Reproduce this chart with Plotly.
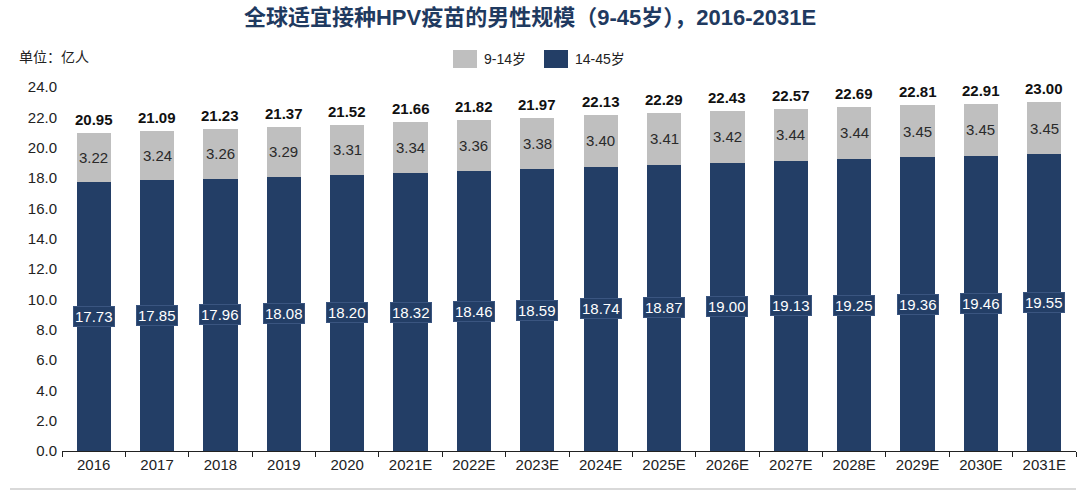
import plotly.graph_objects as go

years = ["2016", "2017", "2018", "2019", "2020", "2021E", "2022E", "2023E",
         "2024E", "2025E", "2026E", "2027E", "2028E", "2029E", "2030E", "2031E"]
age_14_45 = [17.73, 17.85, 17.96, 18.08, 18.20, 18.32, 18.46, 18.59,
             18.74, 18.87, 19.00, 19.13, 19.25, 19.36, 19.46, 19.55]
age_9_14 = [3.22, 3.24, 3.26, 3.29, 3.31, 3.34, 3.36, 3.38,
            3.40, 3.41, 3.42, 3.44, 3.44, 3.45, 3.45, 3.45]
totals = [20.95, 21.09, 21.23, 21.37, 21.52, 21.66, 21.82, 21.97,
          22.13, 22.29, 22.43, 22.57, 22.69, 22.81, 22.91, 23.00]
series_names = ["9-14岁", "14-45岁"]

NAVY = "#233E66"
GREY = "#BFBFBF"
FONT = "Liberation Sans, Arial, Noto Sans CJK SC, sans-serif"

# plot area in pixels: x 62..1076, y 87..451
L, T, R, B = 62, 87, 1076, 451
PW, PH = R - L, B - T


def px(xp):
    return (xp - L) / PW


def py(yp):
    return (B - yp) / PH


fig = go.Figure()
fig.add_trace(go.Bar(x=years, y=age_14_45, name=series_names[1], marker=dict(color=NAVY, line=dict(width=0)),
                     width=0.54, hoverinfo="skip", showlegend=False))
fig.add_trace(go.Bar(x=years, y=age_9_14, name=series_names[0], marker=dict(color=GREY, line=dict(width=0)),
                     width=0.54, hoverinfo="skip", showlegend=False))

ann = []
for i, yr in enumerate(years):
    ann.append(dict(x=i, y=age_14_45[i] / 2, xref="x", yref="y", text=f"{age_14_45[i]:.2f}",
                    showarrow=False, font=dict(family=FONT, size=15, color="white"),
                    bgcolor=NAVY, bordercolor="#3A5580", borderwidth=1, borderpad=1))
    ann.append(dict(x=i, y=age_14_45[i] + age_9_14[i] / 2, xref="x", yref="y", text=f"{age_9_14[i]:.2f}",
                    showarrow=False, font=dict(family=FONT, size=15, color="#2a2a2a")))
    ann.append(dict(x=i, y=totals[i], xref="x", yref="y", text=f"<b>{totals[i]:.2f}</b>",
                    showarrow=False, yanchor="bottom", yshift=3,
                    font=dict(family=FONT, size=15, color="#111111")))

ann.append(dict(x=px(17), y=py(57), xref="paper", yref="paper", xanchor="left", yanchor="middle",
                text="单位：亿人", showarrow=False, font=dict(family=FONT, size=14, color="#222222")))

# custom legend (boxes + labels)
shapes = []
legend_items = [(453, GREY, series_names[0]), (544, NAVY, series_names[1])]
for x0, col, name in legend_items:
    shapes.append(dict(type="rect", xref="paper", yref="paper", x0=px(x0), x1=px(x0 + 24),
                       y0=py(68), y1=py(50), fillcolor=col, line=dict(width=0)))
    ann.append(dict(x=px(x0 + 29), y=py(59), xref="paper", yref="paper", xanchor="left", yanchor="middle",
                    text=name, showarrow=False, font=dict(family=FONT, size=14, color="#222222")))

shapes.append(dict(type="line", xref="paper", yref="paper", x0=px(10), x1=1.0,
                   y0=py(489), y1=py(489), line=dict(color="#D9D9D9", width=2)))

fig.update_layout(
    width=1080, height=492,
    barmode="stack",
    paper_bgcolor="white", plot_bgcolor="white",
    margin=dict(l=L, r=1080 - R, t=T, b=492 - B),
    title=dict(text="<b>全球适宜接种HPV疫苗的男性规模（9-45岁），2016-2031E</b>",
               x=530 / 1080, xanchor="center", y=1 - 17 / 492, yanchor="middle",
               font=dict(family=FONT, size=22, color="#1F3A60")),
    annotations=ann,
    shapes=shapes,
    showlegend=False,
)
fig.update_xaxes(type="category", range=[-0.5, len(years) - 0.5], showline=True, linecolor="#222222",
                 linewidth=1.2, ticks="outside",
                 tickson="boundaries", ticklen=5, tickcolor="#222222", tickangle=0,
                 tickfont=dict(family=FONT, size=15, color="#222222"), showgrid=False)
fig.update_yaxes(range=[0, 24], dtick=2, tickformat=".1f", showgrid=False, showline=False,
                 zeroline=False, ticks="", ticklabelstandoff=4,
                 tickfont=dict(family=FONT, size=15, color="#222222"))

fig.write_html("out.html", config={"displayModeBar": False},
               post_script="document.body.style.margin='0';")
